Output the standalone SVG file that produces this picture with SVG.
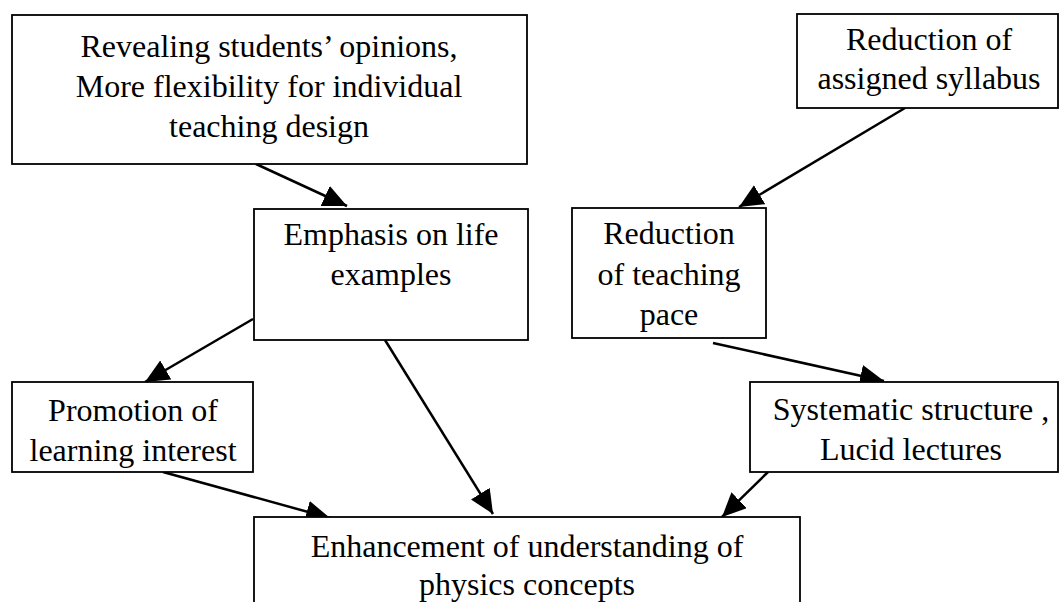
<svg xmlns="http://www.w3.org/2000/svg" width="1060" height="602" viewBox="0 0 1060 602">
<defs>
<style>
.box{fill:#fff;stroke:#000;stroke-width:1.8}
.t{font-family:"Liberation Serif","Times New Roman",serif;font-size:32px;fill:#000;text-anchor:middle}
.c{stroke:#000;stroke-width:2.5;fill:none;marker-end:url(#ah)}
</style>
<marker id="ah" markerUnits="userSpaceOnUse" markerWidth="26" markerHeight="24" refX="24" refY="11" orient="auto">
<path d="M0,0 L24,11 L0,22 z" fill="#000"/>
</marker>
</defs>
<rect width="1060" height="602" fill="#fff"/>
<g id="connectors">
<line class="c" x1="256" y1="164" x2="347" y2="206"/>
<line class="c" x1="905" y1="108" x2="739" y2="207"/>
<line class="c" x1="253" y1="319" x2="145" y2="382"/>
<line class="c" x1="385" y1="340" x2="493" y2="514"/>
<line class="c" x1="713" y1="343" x2="884" y2="381"/>
<line class="c" x1="163" y1="472" x2="330" y2="518"/>
<line class="c" x1="768" y1="472" x2="722" y2="517"/>
</g>
<g id="nodeA">
<rect class="box" x="12" y="15" width="515" height="149"/>
<text class="t" x="269" y="57">Revealing students’ opinions,</text>
<text class="t" x="269" y="97">More flexibility for individual</text>
<text class="t" x="269" y="137">teaching design</text>
</g>
<g id="nodeB">
<rect class="box" x="797" y="14" width="261" height="94"/>
<text class="t" x="929" y="50">Reduction of</text>
<text class="t" x="929" y="89">assigned syllabus</text>
</g>
<g id="nodeC">
<rect class="box" x="254" y="209" width="274" height="131"/>
<text class="t" x="391" y="245">Emphasis on life</text>
<text class="t" x="391" y="285">examples</text>
</g>
<g id="nodeD">
<rect class="box" x="572" y="208" width="194" height="130"/>
<text class="t" x="669" y="244">Reduction</text>
<text class="t" x="669" y="285">of teaching</text>
<text class="t" x="669" y="325">pace</text>
</g>
<g id="nodeE">
<rect class="box" x="12" y="382" width="241" height="90"/>
<text class="t" x="133" y="421">Promotion of</text>
<text class="t" x="133" y="461">learning interest</text>
</g>
<g id="nodeF">
<rect class="box" x="750" y="382" width="308" height="90"/>
<text class="t" x="911" y="420">Systematic structure ,</text>
<text class="t" x="911" y="460">Lucid lectures</text>
</g>
<g id="nodeG">
<rect class="box" x="254" y="517" width="546" height="100"/>
<text class="t" x="527" y="557">Enhancement of understanding of</text>
<text class="t" x="527" y="595">physics concepts</text>
</g>
</svg>
